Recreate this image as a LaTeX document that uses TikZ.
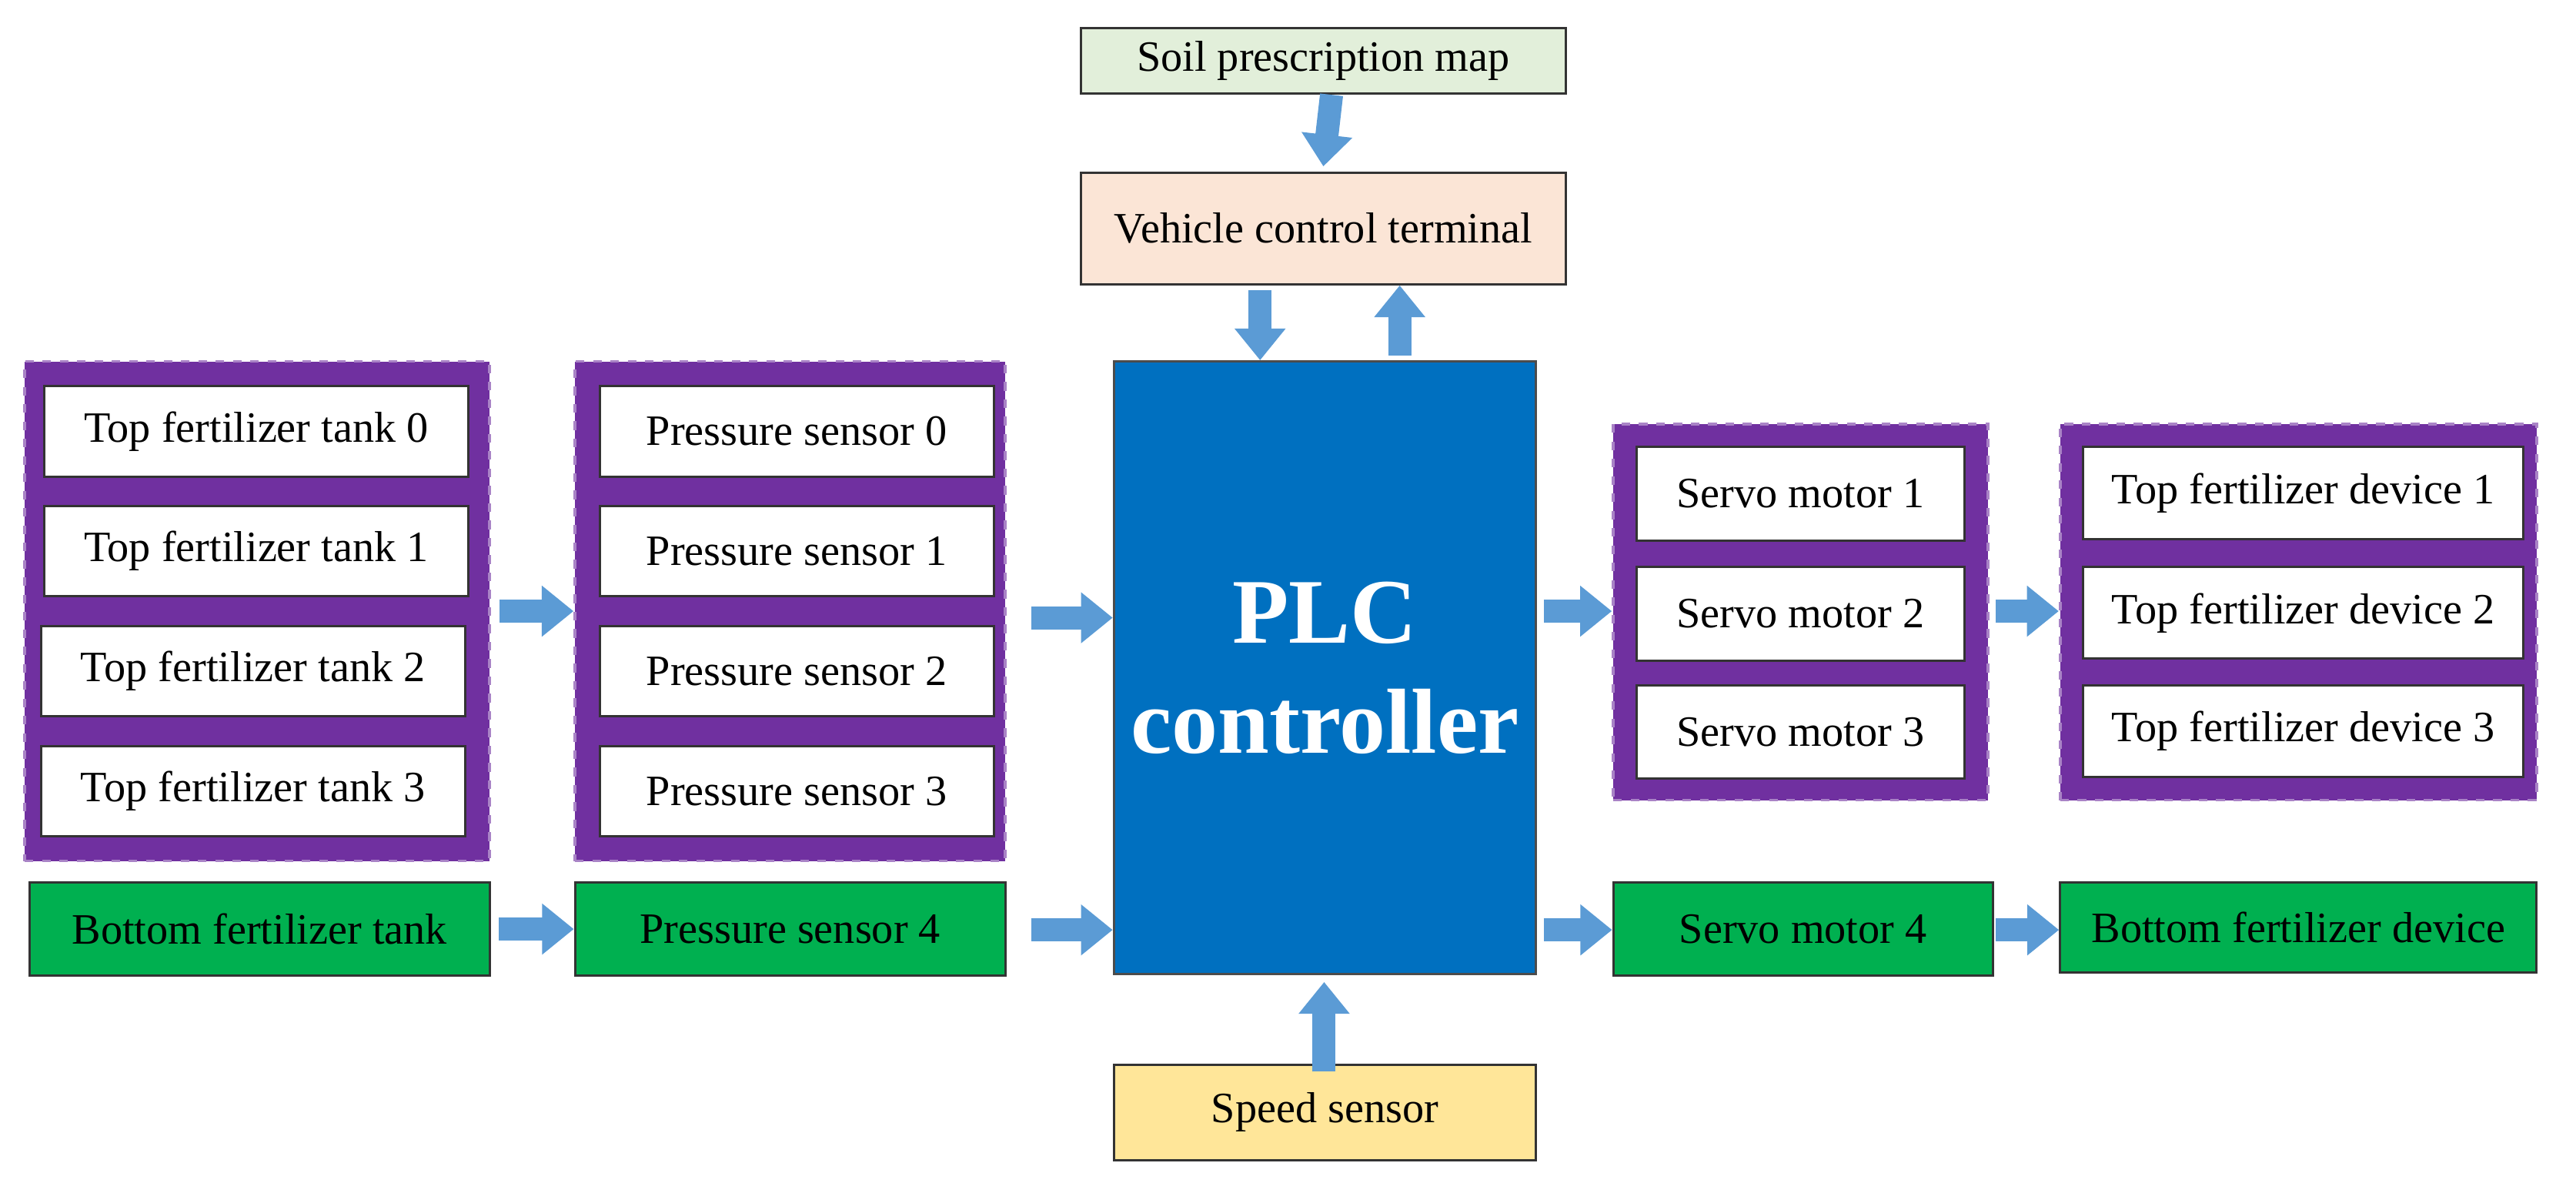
\documentclass[tikz,border=0pt]{standalone}
\usepackage{fontspec}
\setmainfont{Liberation Serif}
\usetikzlibrary{arrows.meta}
\definecolor{purp}{HTML}{7030A0}
\definecolor{grn}{HTML}{00B050}
\definecolor{plc}{HTML}{0070C0}
\definecolor{arr}{HTML}{5B9BD5}
\definecolor{soil}{HTML}{E2EFDA}
\definecolor{veh}{HTML}{FBE5D6}
\definecolor{spd}{HTML}{FFE699}
\newcommand\bx[7]{\node[#6, minimum width={(#4-#2)*0.02cm}, minimum height={(#5-#3)*0.02cm}] (#1) at ({(#2+#4)/2},{(#3+#5)/2}) {#7};}
\tikzset{
 base/.style={draw=black!80, line width=0.8pt, inner sep=0pt, font=\fontsize{15}{18}\selectfont},
 wbox/.style={base, fill=white},
 gbox/.style={base, fill=grn},
 grp/.style={draw=purp!60, dashed, line width=1pt, fill=purp, inner sep=0pt},
 ba/.style={draw=arr, line width=8pt, -{Triangle[width=17pt,length=11pt]}, shorten >=0pt}
}
\begin{document}
\begin{tikzpicture}[x=0.02cm,y=-0.02cm]
\useasboundingbox (0,0) rectangle (1568,726);
% top
\bx{soil}{658}{17}{953}{57}{base,fill=soil}{Soil prescription map}
\bx{veh}{658}{105}{953}{173}{base,fill=veh}{Vehicle control terminal}
\bx{plc}{678}{220}{935}{593}{base,fill=plc,draw=black!70,text=white,font=\fontsize{32}{38}\selectfont\bfseries,align=center}{PLC\\controller}
\bx{spd}{678}{648}{935}{706}{base,fill=spd}{Speed sensor}
% groups
\bx{g1}{15}{220}{298}{524}{grp}{}
\bx{g2}{350}{220}{612}{524}{grp}{}
\bx{g3}{982}{258}{1210}{487}{grp}{}
\bx{g4}{1254}{258}{1544}{487}{grp}{}
\bx{t0}{27}{235}{285}{290}{wbox}{Top fertilizer tank 0}
\bx{t1}{27}{308}{285}{363}{wbox}{Top fertilizer tank 1}
\bx{t2}{25}{381}{283}{436}{wbox}{Top fertilizer tank 2}
\bx{t3}{25}{454}{283}{509}{wbox}{Top fertilizer tank 3}
\bx{p0}{365}{235}{605}{290}{wbox}{Pressure sensor 0}
\bx{p1}{365}{308}{605}{363}{wbox}{Pressure sensor 1}
\bx{p2}{365}{381}{605}{436}{wbox}{Pressure sensor 2}
\bx{p3}{365}{454}{605}{509}{wbox}{Pressure sensor 3}
\bx{s1}{996}{272}{1196}{329}{wbox}{Servo motor 1}
\bx{s2}{996}{345}{1196}{402}{wbox}{Servo motor 2}
\bx{s3}{996}{417}{1196}{474}{wbox}{Servo motor 3}
\bx{d1}{1268}{272}{1536}{328}{wbox}{Top fertilizer device 1}
\bx{d2}{1268}{345}{1536}{401}{wbox}{Top fertilizer device 2}
\bx{d3}{1268}{417}{1536}{473}{wbox}{Top fertilizer device 3}
\bx{bt}{18}{537}{298}{594}{gbox}{Bottom fertilizer tank}
\bx{p4}{350}{537}{612}{594}{gbox}{Pressure sensor 4}
\bx{s4}{982}{537}{1213}{594}{gbox}{Servo motor 4}
\bx{bd}{1254}{537}{1544}{592}{gbox}{Bottom fertilizer device}
% arrows
\draw[ba] ([xshift=5*0.02cm]soil.south) -- ([yshift=3*0.02cm]veh.north) ;
\draw[ba] (g1.east|-0,372) ++(5,0) -- (g2.west|-0,372);
\draw[ba] ([xshift=15*0.02cm]g2.east|-0,376) -- (plc.west|-0,376);
\draw[ba] ([xshift=5*0.02cm]bt.east) -- (p4.west);
\draw[ba] ([xshift=15*0.02cm]p4.east|-0,566) -- (plc.west|-0,566);
\draw[ba] ([xshift=4*0.02cm]plc.east|-0,372) -- (g3.west|-0,372);
\draw[ba] ([xshift=4*0.02cm]g3.east|-0,372) -- (g4.west|-0,372);
\draw[ba] ([xshift=4*0.02cm]plc.east|-0,566) -- (s4.west|-0,566);
\draw[ba] ([xshift=1*0.02cm]s4.east|-0,566) -- (bd.west|-0,566);
\draw[ba] ([yshift=-3*0.02cm]veh.south-|767,0) -- (plc.north-|767,0);
\draw[ba] ([yshift=3*0.02cm]plc.north-|852,0) -- (veh.south-|852,0);
\draw[ba] ([yshift=-5*0.02cm]spd.north-|806,0) -- ([yshift=-4*0.02cm]plc.south-|806,0);
\end{tikzpicture}
\end{document}
